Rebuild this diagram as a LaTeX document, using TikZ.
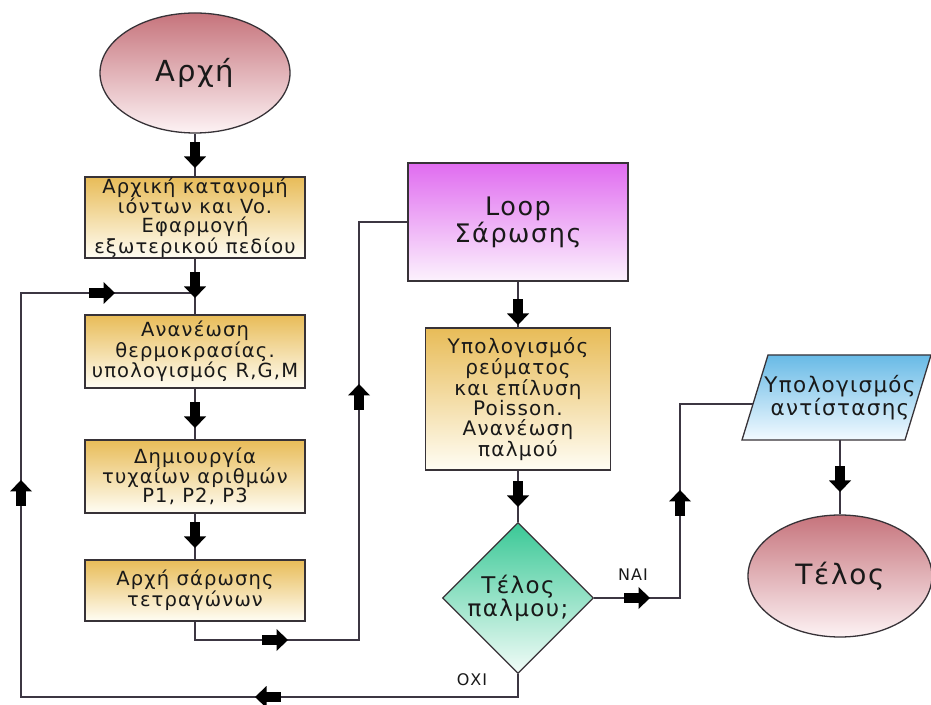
\documentclass[tikz,border=0pt]{standalone}
\usepackage{fontspec}
\setmainfont{DejaVu Sans}
\newfontfamily\spfont[LetterSpace=6]{DejaVu Sans}
\usetikzlibrary{shapes.geometric,calc}
\definecolor{linec}{RGB}{60,54,66}
\definecolor{bordc}{RGB}{55,50,55}
\definecolor{txtc}{RGB}{25,25,25}
\definecolor{roseT}{RGB}{198,116,124}
\definecolor{roseB}{RGB}{253,242,244}
\definecolor{yelT}{RGB}{232,188,88}
\definecolor{yelB}{RGB}{255,253,244}
\definecolor{magT}{RGB}{224,108,240}
\definecolor{magB}{RGB}{252,242,253}
\definecolor{grnT}{RGB}{58,200,150}
\definecolor{grnB}{RGB}{242,252,248}
\definecolor{bluT}{RGB}{104,186,230}
\definecolor{bluB}{RGB}{242,250,255}
\begin{document}
\begin{tikzpicture}[x=1pt,y=1pt,
  conn/.style={draw=linec, line width=2.8pt},
  shapeborder/.style={draw=bordc, line width=1.3pt, text=txtc, align=center, inner sep=0pt},
  procbox/.style={shapeborder, rectangle, top color=yelT, bottom color=yelB,
     minimum width=220pt, font=\spfont\fontsize{19.5}{19}\selectfont},
  terminal/.style={shapeborder, ellipse, top color=roseT, bottom color=roseB},
  lbl/.style={text=txtc, font=\spfont\fontsize{16}{18}\selectfont},
  blkarrow/.pic={\fill[black] (-26,-5) rectangle (-11,5);
                 \fill[black] (-11.5,-11) -- (0,0) -- (-11.5,11) -- cycle;}
]
\useasboundingbox (0,0) rectangle (931,704);
\fill[white] (0,0) rectangle (931,704);

% nodes
\node[terminal, minimum width=190pt, minimum height=120pt,
      font=\spfont\fontsize{29}{32}\selectfont] (start) at (195,631) {Αρχή};
\node[procbox, minimum height=81pt] (box1) at (195,486.5)
  {Αρχική κατανομή\\ιόντων και Vo.\\Εφαρμογή\\εξωτερικού πεδίου};
\node[procbox, minimum height=73pt] (box2) at (195,352.5)
  {Ανανέωση\\θερμοκρασίας.\\υπολογισμός R,G,M};
\node[procbox, minimum height=73pt] (box3) at (195,227.5)
  {Δημιουργία\\τυχαίων αριθμών\\P1, P2, P3};
\node[procbox, minimum height=61pt] (box4) at (195,113.5)
  {Αρχή σάρωσης\\τετραγώνων};
\node[shapeborder, rectangle, top color=magT, bottom color=magB,
      minimum width=220pt, minimum height=118pt,
      font=\spfont\fontsize{25.5}{27}\selectfont] (loop) at (518,482) {Loop\\Σάρωσης};
\node[procbox, minimum width=185pt, minimum height=142pt,
      font=\spfont\fontsize{20}{20}\selectfont] (calc) at (518,305)
  {Υπολογισμός\\ρεύματος\\και επίλυση\\Poisson.\\Ανανέωση\\παλμού};
\node[shapeborder, diamond, top color=grnT, bottom color=grnB,
      minimum width=151pt, minimum height=151pt,
      font=\spfont\fontsize{23}{23}\selectfont] (dec) at (518,106) {Τέλος\\παλμου;};
\shade[draw=bordc, line width=1.3pt, top color=bluT, bottom color=bluB]
  (742,264) -- (768,349) -- (931,349) -- (905,264) -- cycle;
\node[text=txtc, align=center, font=\spfont\fontsize{21.5}{23}\selectfont]
  (para) at (840,306) {Υπολογισμός\\αντίστασης};
\coordinate (paraL) at (753,300);
\coordinate (paraB) at (840,264);
\node[terminal, minimum width=184pt, minimum height=122pt,
      font=\spfont\fontsize{28}{30}\selectfont] (end) at (840,128) {Τέλος};

% junction coordinates
\coordinate (j1) at (359,64);
\coordinate (j2) at (680,300);
\coordinate (j3) at (21,7);
\coordinate (j4) at (195,411);

% connectors
\draw[conn] (start) -- (box1);
\draw[conn] (box1) -- (box2);
\draw[conn] (box2) -- (box3);
\draw[conn] (box3) -- (box4);
\draw[conn] (box4.south) |- (j1) |- (loop.west);
\draw[conn] (loop) -- (calc);
\draw[conn] (calc) -- (dec);
\draw[conn] (dec.east) -| (j2) -- (paraL);
\draw[conn] (paraB) -- (end.north);
\draw[conn] (dec.south) |- (j3) |- (j4);

% labels
\node[lbl] (nai) at (633,129) {ΝΑΙ};
\node[lbl] (oxi) at (472,24) {ΟΧΙ};

% block arrows
\pic[rotate=-90] at (195,536) {blkarrow};
\pic at (115,411) {blkarrow};
\pic[rotate=-90] at (195,406) {blkarrow};
\pic[rotate=-90] at (195,276) {blkarrow};
\pic[rotate=-90] at (195,156) {blkarrow};
\pic at (288,64) {blkarrow};
\pic[rotate=90] at (359,320) {blkarrow};
\pic[rotate=180] at (255,7) {blkarrow};
\pic[rotate=90] at (21,224) {blkarrow};
\pic[rotate=-90] at (518,379) {blkarrow};
\pic[rotate=-90] at (518,197) {blkarrow};
\pic at (650,106) {blkarrow};
\pic[rotate=90] at (680,214) {blkarrow};
\pic[rotate=-90] at (840,212) {blkarrow};
\end{tikzpicture}
\end{document}
